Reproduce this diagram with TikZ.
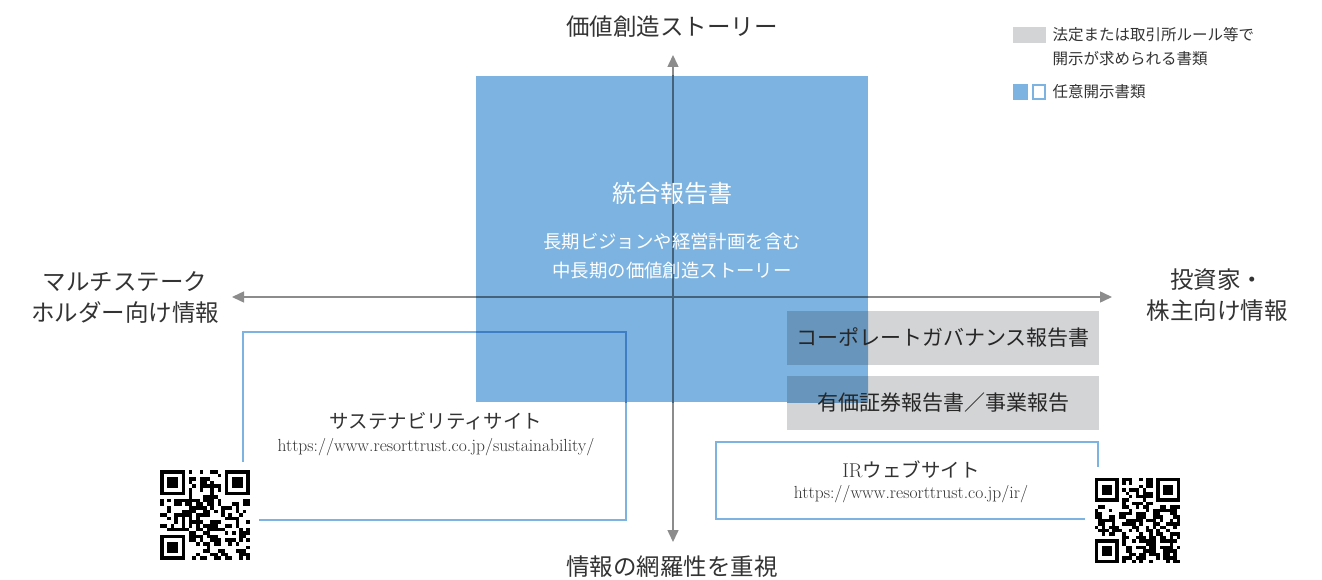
\documentclass[tikz,border=0pt]{standalone}
\usepackage{fontspec}
\newfontfamily\jp{Noto Sans CJK JP}
\usetikzlibrary{arrows.meta}
\definecolor{txt}{HTML}{333333}
\definecolor{axisgray}{HTML}{8C8C8C}
\definecolor{bluefill}{HTML}{7DB3E0}
\definecolor{grayfill}{HTML}{D3D4D6}
\definecolor{grayonblue}{HTML}{6795BC}
\definecolor{blueonblue}{HTML}{3D7EC5}
\definecolor{axisonblue}{HTML}{45627B}
\tikzset{
  axisline/.style={draw=axisgray, line width=1.5pt, -{Triangle[width=11pt,length=12pt]}},
  axislabel/.style={text=txt, font=\jp\fontsize{23.5}{31}\selectfont, align=center},
  graybox/.style={fill=grayfill, draw=none, minimum width=312pt, minimum height=54pt, inner sep=0pt},
  grayboxtext/.style={text=black!85, font=\jp\fontsize{21}{24}\selectfont},
  siteline/.style={draw=bluefill, line width=2.2pt},
  sitetitle/.style={text=txt, font=\jp\fontsize{19.5}{22}\selectfont},
  siteurl/.style={text=txt, font=\fontsize{17.5}{20}\selectfont},
  legendtext/.style={text=txt, font=\jp\fontsize{15.5}{24}\selectfont, align=left, anchor=west},
}
\newcommand\myqr[4]{%
  \pgfmathsetseed{#4}%
  \foreach \i in {0,...,24}{%
    \foreach \j in {0,...,24}{%
      \pgfmathrandominteger{\qrr}{0}{1}%
      \pgfmathtruncatemacro{\qrskip}{((\i<8)&&(\j<8))||((\i>16)&&(\j<8))||((\i<8)&&(\j>16))}%
      \ifnum\qrr=1 \ifnum\qrskip=0
        \fill[black] ({#1+\i*#3},{#2+\j*#3}) rectangle ++(#3,#3);
      \fi\fi
    }%
  }%
  \foreach \fx/\fy in {0/0,18/0,0/18}{%
    \fill[black] ({#1+\fx*#3},{#2+\fy*#3}) rectangle ++({7*#3},{7*#3});
    \fill[white] ({#1+(\fx+1)*#3},{#2+(\fy+1)*#3}) rectangle ++({5*#3},{5*#3});
    \fill[black] ({#1+(\fx+2)*#3},{#2+(\fy+2)*#3}) rectangle ++({3*#3},{3*#3});
  }%
}
\begin{document}
\begin{tikzpicture}[x=1pt,y=-1pt]
\useasboundingbox (0,0) rectangle (1322,580);
\fill[white] (0,0) rectangle (1322,580);

% gray boxes
\node[graybox] (cg) at (943,338) {};
\node[graybox] (yu) at (943,403) {};

% site outlines
\coordinate (s1) at (243,462);
\coordinate (s2) at (243,332);
\coordinate (s3) at (626,332);
\coordinate (s4) at (626,520);
\coordinate (s5) at (259,520);
\draw[siteline] (s1) -- (s2) -- (s3) -- (s4) -- (s5);
\coordinate (i1) at (1098,467);
\coordinate (i2) at (1098,442);
\coordinate (i3) at (716,442);
\coordinate (i4) at (716,519);
\coordinate (i5) at (1085,519);
\draw[siteline] (i1) -- (i2) -- (i3) -- (i4) -- (i5);

% axes
\coordinate (vc) at (673,297);
\coordinate (vtop) at (673,55);
\coordinate (vbot) at (673,542);
\coordinate (hl) at (232,297);
\coordinate (hr) at (1112,297);
\draw[axisline] (vc) -- (vtop);
\draw[axisline] (vc) -- (vbot);
\draw[axisline] (vc) -- (hl);
\draw[axisline] (vc) -- (hr);

% blue integrated report box, with what lies under it shown through (multiply look)
\fill[bluefill] (476,76) rectangle (868,402);
\begin{scope}
\clip (476,76) rectangle (868,402);
\node[graybox, fill=grayonblue] at (943,338) {};
\node[graybox, fill=grayonblue] at (943,403) {};
\draw[siteline, draw=blueonblue] (s1) -- (s2) -- (s3) -- (s4) -- (s5);
\draw[draw=axisonblue, line width=1.5pt] (vtop) -- (vbot);
\draw[draw=axisonblue, line width=1.5pt] (hl) -- (hr);
\end{scope}
\node[text=white, font=\jp\fontsize{24}{28}\selectfont] (ir) at (672,193) {統合報告書};
\node[text=white, font=\jp\fontsize{18.4}{29}\selectfont, align=center] (irsub) at (672,256) {長期ビジョンや経営計画を含む\\中長期の価値創造ストーリー};

% gray box texts
\node[grayboxtext] (cgt) at (943,338) {コーポレートガバナンス報告書};
\node[grayboxtext] (yut) at (943,403) {有価証券報告書／事業報告};

% site texts
\node[sitetitle] (st) at (436,421) {サステナビリティサイト};
\node[siteurl] (su) at (436,447) {https://www.resorttrust.co.jp/sustainability/};
\node[sitetitle] (it) at (911,470) {\rmfamily\fontsize{20}{22}\selectfont IR{\jp\fontsize{19.5}{22}\selectfont ウェブサイト}};
\node[siteurl] (iu) at (911,494) {https://www.resorttrust.co.jp/ir/};

% axis labels
\node[axislabel] (top) at (672,27) {価値創造ストーリー};
\node[axislabel] (bot) at (672,567) {情報の網羅性を重視};
\node[axislabel] (left) at (125,297) {マルチステーク\\ホルダー向け情報};
\node[axislabel] (right) at (1217,295) {投資家・\\株主向け情報};

% QR codes
\myqr{160}{470}{3.6}{17}
\myqr{1095}{478}{3.4}{91}

% legend
\fill[grayfill] (1013,27) rectangle (1046,43);
\node[legendtext] (l1) at (1049,47) {法定または取引所ルール等で\\開示が求められる書類};
\fill[bluefill] (1013,84) rectangle (1028,100);
\draw[bluefill, line width=2pt] (1033,85) rectangle (1045,99);
\node[legendtext] (l2) at (1049,92) {任意開示書類};
\end{tikzpicture}
\end{document}
